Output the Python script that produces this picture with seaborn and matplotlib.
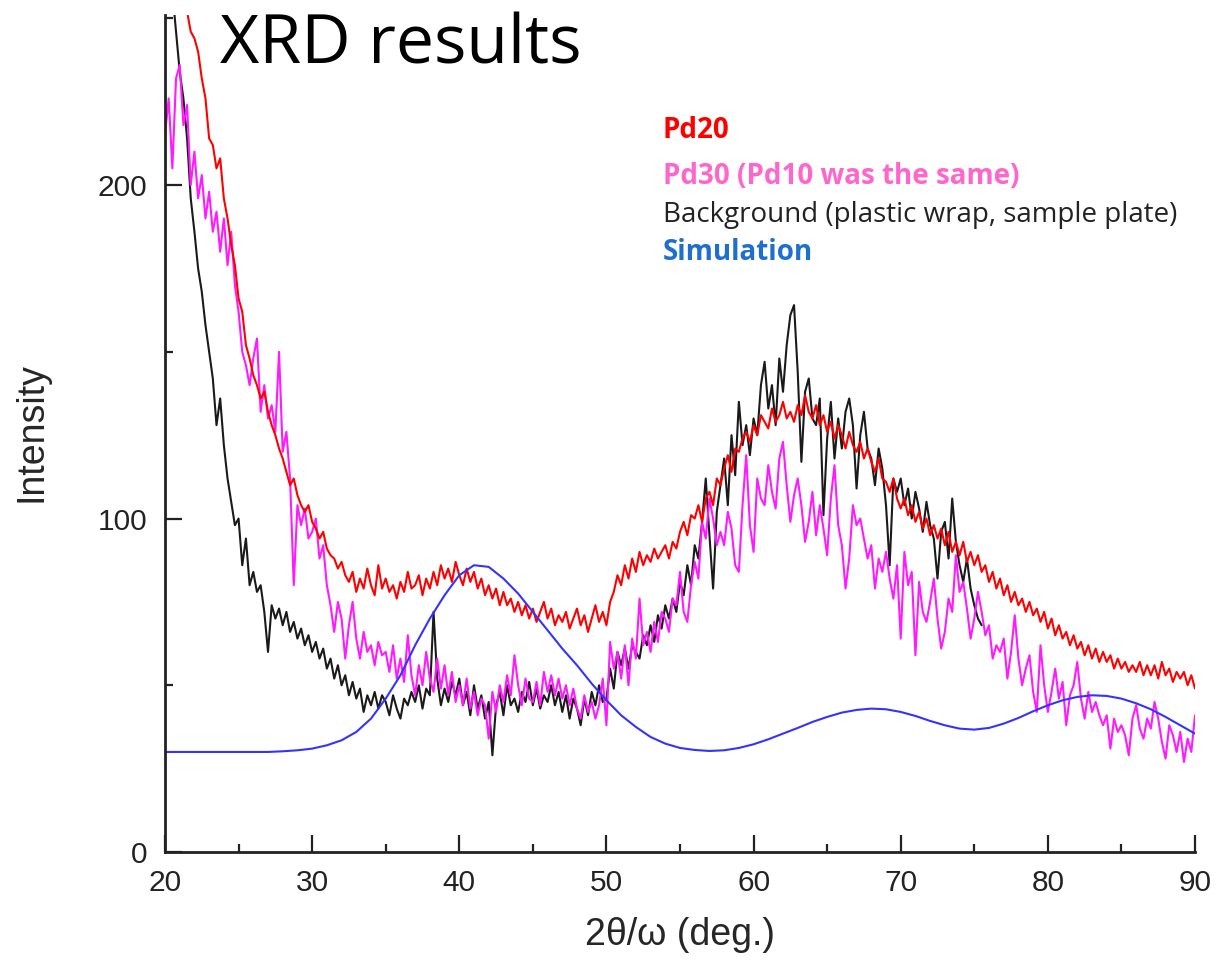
import numpy as np
import pandas as pd
import matplotlib.pyplot as plt
from matplotlib.ticker import MultipleLocator
import seaborn as sns

# 2theta sampling: first angle and step for each scan
STEP = 0.25
pd20_start = 21.5
pd30_start = 20.0
bg_start = 20.0
sim_start = 20.0
sim_step = 1.0

# Pd20 (red), every 0.25 deg
pd20 = [252, 246,
        244, 240, 232, 226, 214, 212, 205, 208, 196, 190, 182, 176,
        166, 162, 152, 148, 143, 140, 136, 138, 132, 128, 125, 121,
        118, 114, 110, 112, 107, 104, 102, 104, 99, 97, 94, 96,
        91, 89, 88, 85, 87, 83, 81, 84, 78, 82, 79, 85,
        80, 77, 86, 79, 82, 78, 80, 76, 81, 78, 84, 79,
        80, 83, 77, 82, 79, 84, 80, 86, 82, 85, 81, 87,
        83, 80, 85, 81, 84, 79, 82, 77, 80, 76, 79, 74,
        78, 74, 76, 72, 75, 71, 74, 70, 73, 69, 72, 75,
        70, 73, 68, 71, 69, 72, 67, 70, 73, 68, 71, 66,
        70, 74, 69, 72, 68, 75, 78, 83, 80, 86, 82, 88,
        84, 90, 86, 89, 87, 91, 88, 90, 92, 88, 93, 91,
        96, 99, 95, 101, 100, 104, 99, 106, 108, 104, 112, 110,
        115, 119, 114, 121, 120, 124, 126, 123, 128, 125, 131, 129,
        127, 133, 129, 131, 135, 130, 132, 129, 134, 131, 137, 132,
        130, 134, 128, 131, 126, 129, 124, 128, 125, 121, 126, 122,
        120, 123, 118, 121, 117, 114, 118, 112, 111, 108, 112, 106,
        103, 106, 101, 104, 99, 102, 97, 100, 95, 98, 94, 97,
        92, 96, 90, 93, 89, 93, 87, 90, 86, 89, 84, 86,
        81, 84, 79, 82, 77, 80, 75, 78, 74, 76, 72, 75,
        71, 73, 69, 72, 67, 70, 65, 68, 64, 66, 62, 65,
        61, 63, 59, 62, 58, 61, 57, 60, 57, 59, 55, 58,
        55, 57, 54, 56, 54, 57, 53, 56, 53, 56, 52, 57,
        53, 55, 51, 54, 52, 54, 50, 53, 49]

# Pd30 (magenta)
pd30 = [215, 226, 205, 232, 236, 218, 224, 200, 210, 196, 203, 190,
        198, 186, 192, 180, 190, 176, 186, 170, 162, 150, 146, 140,
        148, 154, 132, 140, 130, 134, 126, 150, 120, 126, 112, 80,
        104, 98, 103, 94, 96, 100, 88, 92, 80, 74, 66, 75,
        70, 58, 68, 75, 64, 58, 66, 60, 62, 56, 63, 59,
        60, 54, 62, 52, 58, 51, 65, 53, 47, 56, 50, 60,
        52, 48, 58, 49, 56, 47, 54, 45, 50, 44, 52, 43,
        48, 41, 46, 44, 34, 48, 42, 50, 45, 53, 47, 59,
        50, 44, 52, 46, 45, 51, 44, 54, 48, 53, 47, 52,
        46, 50, 44, 49, 43, 40, 47, 42, 45, 40, 44, 52,
        38, 63, 55, 60, 52, 62, 50, 64, 58, 76, 62, 66,
        60, 69, 63, 72, 70, 66, 76, 74, 84, 72, 69, 80,
        87, 82, 99, 94, 106, 100, 92, 96, 92, 102, 97, 86,
        84, 104, 119, 98, 90, 112, 106, 104, 116, 108, 103, 118,
        123, 110, 99, 107, 112, 104, 93, 99, 108, 95, 104, 97,
        89, 106, 116, 98, 92, 79, 88, 104, 98, 100, 94, 88,
        92, 79, 88, 84, 90, 82, 76, 86, 64, 90, 80, 84,
        59, 81, 72, 69, 75, 82, 70, 61, 66, 76, 72, 89,
        78, 81, 73, 64, 70, 78, 72, 65, 68, 58, 62, 60,
        64, 52, 60, 71, 58, 50, 55, 59, 48, 42, 62, 50,
        42, 48, 55, 46, 51, 38, 47, 50, 57, 46, 40, 48,
        42, 45, 41, 38, 41, 31, 40, 36, 38, 35, 29, 40,
        44, 37, 34, 40, 37, 45, 40, 33, 28, 38, 35, 30,
        36, 27, 34, 30, 41]

# Background (black)
background = [258, 264, 258, 246, 234, 226, 214, 196, 186, 175, 168, 158,
              150, 142, 128, 136, 122, 112, 105, 98, 100, 86, 94, 80,
              84, 78, 80, 72, 60, 74, 70, 73, 68, 72, 66, 69,
              64, 67, 62, 65, 60, 63, 58, 61, 55, 58, 52, 56,
              50, 53, 47, 51, 46, 49, 42, 47, 44, 48, 43, 47,
              45, 41, 47, 43, 40, 46, 44, 48, 45, 50, 43, 49,
              47, 72, 52, 44, 49, 45, 51, 47, 52, 44, 48, 41,
              50, 43, 47, 40, 45, 29, 44, 48, 41, 50, 44, 46,
              42, 48, 45, 51, 44, 49, 43, 47, 45, 50, 44, 48,
              42, 47, 40, 46, 43, 38, 46, 41, 48, 44, 50, 45,
              46, 55, 49, 60, 56, 61, 55, 62, 60, 58, 65, 62,
              68, 63, 71, 67, 74, 70, 76, 72, 81, 77, 86, 80,
              92, 88, 99, 112, 95, 79, 102, 110, 118, 104, 125, 113,
              135, 122, 128, 119, 130, 125, 140, 147, 133, 140, 128, 148,
              138, 152, 161, 164, 144, 117, 138, 142, 130, 128, 136, 101,
              124, 135, 118, 130, 121, 132, 136, 128, 109, 125, 132, 121,
              118, 110, 121, 115, 104, 86, 112, 108, 112, 104, 109, 100,
              108, 103, 96, 105, 98, 94, 82, 96, 99, 88, 106, 93,
              86, 81, 88, 79, 74, 70, 68]

# Simulation (blue), every 1 deg
simulation = [30, 30, 30, 30, 30, 30, 30, 30, 30.2, 30.5,
              31, 32, 33.5, 36, 40, 46, 53, 62, 70, 77,
              83, 86, 85.5, 82, 77.5, 72, 66.5, 61, 56, 50.5,
              45.5, 41, 37.5, 34.5, 32.5, 31.2, 30.6, 30.3, 30.5, 31.2,
              32.3, 33.8, 35.5, 37.2, 39, 40.5, 41.8, 42.6, 43, 42.8,
              42, 40.8, 39.3, 38, 37, 36.7, 37.2, 38.5, 40.2, 42.2,
              44, 45.5, 46.5, 47, 46.8, 46, 44.6, 42.8, 40.5, 38,
              35.5]

legend_labels = ['Pd20', 'Pd30 (Pd10 was the same)',
                 'Background (plastic wrap, sample plate)', 'Simulation']
legend_colors = ['#ff0000', '#ff66cc', '#222222', '#1f6fd0']


def scan(start, values, step=STEP):
    vals = np.asarray(values, dtype=float)
    return pd.DataFrame({'angle': start + step * np.arange(len(vals)),
                         'intensity': vals})


sns.set_style('ticks')
plt.rcParams['font.family'] = ['Liberation Sans', 'DejaVu Sans']

fig = plt.figure(figsize=(12.18, 9.6), dpi=100)
ax = fig.add_axes([165 / 1218, 108 / 960, 1030 / 1218, 837 / 960])

lw = 1.5
sns.lineplot(data=scan(bg_start, background), x='angle', y='intensity',
             color='#1a1a1a', lw=lw, estimator=None, sort=False, ax=ax)
sns.lineplot(data=scan(pd30_start, pd30), x='angle', y='intensity',
             color='#ff1aff', lw=lw, estimator=None, sort=False, ax=ax)
sns.lineplot(data=scan(pd20_start, pd20), x='angle', y='intensity',
             color='#ff0000', lw=lw, estimator=None, sort=False, ax=ax)
sns.lineplot(data=scan(sim_start, simulation, sim_step), x='angle', y='intensity',
             color='#3333ff', lw=lw, estimator=None, sort=False, ax=ax)

ax.set_xlim(20, 90)
ax.set_ylim(0, 251)
ax.xaxis.set_major_locator(MultipleLocator(10))
ax.xaxis.set_minor_locator(MultipleLocator(5))
ax.yaxis.set_major_locator(MultipleLocator(100))
ax.yaxis.set_minor_locator(MultipleLocator(50))
ax.tick_params(which='both', direction='in', width=1.6, colors='#222222')
ax.tick_params(which='major', length=12, labelsize=21.5)
ax.tick_params(axis='x', which='major', pad=12)
ax.tick_params(axis='y', which='major', pad=13)
ax.tick_params(which='minor', length=6)
sns.despine(ax=ax)
for side in ['left', 'bottom']:
    ax.spines[side].set_linewidth(2)
    ax.spines[side].set_color('#222222')

ax.set_xlabel('2θ/ω (deg.)', fontsize=27)
ax.set_ylabel('Intensity', fontsize=27)
ax.xaxis.set_label_coords(0.5, -0.078)
ax.yaxis.set_label_coords(-0.112, 0.502)

fig.text(220 / 1218, 1 - 63 / 960, 'XRD results', family='Open Sans',
         fontsize=49, va='baseline', ha='left', color='black')

ys = [131, 176, 215, 252]
weights = ['bold', 'bold', 'normal', 'bold']
for lab, col, yy, wt in zip(legend_labels, legend_colors, ys, weights):
    fig.text(663 / 1218, 1 - yy / 960, lab, family='Open Sans', fontsize=20,
             color=col, fontweight=wt, va='center', ha='left')

fig.savefig('out.png', dpi=100)
